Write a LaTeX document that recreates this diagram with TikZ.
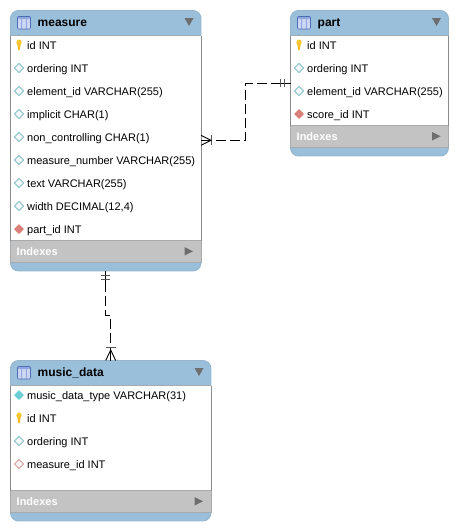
\documentclass[tikz,border=0pt]{standalone}
\usepackage{fontspec}
\setmainfont{Liberation Sans}
\usetikzlibrary{calc}
\definecolor{hdr}{HTML}{9ABFDA}
\definecolor{idxgrey}{HTML}{C3C3C3}
\definecolor{edge}{HTML}{8C8C8C}
\definecolor{softedge}{HTML}{A8ABAE}
\definecolor{tri}{HTML}{6E6E6E}
\definecolor{keyy}{HTML}{F6C62E}
\definecolor{dteal}{HTML}{93C6CB}
\definecolor{dred}{HTML}{DB8078}
\definecolor{dpale}{HTML}{D9AAA6}
\definecolor{dcyan}{HTML}{6CCFD6}
\definecolor{iconfill}{HTML}{CBD6F2}
\definecolor{iconline}{HTML}{8FA6DE}
\definecolor{iconedge}{HTML}{4F6FB5}
\definecolor{barcol}{HTML}{555555}
\tikzset{
  x=1pt,y=-1pt,
  tablebox/.style={anchor=north west,inner sep=0pt,outer sep=0pt,rectangle},
  coltext/.style={anchor=base west,inner sep=0pt,font=\fontsize{11}{13}\selectfont,text=black},
  titletext/.style={anchor=base west,inner sep=0pt,font=\fontsize{12}{14}\selectfont\bfseries,text=black},
  idxtext/.style={anchor=base west,inner sep=0pt,font=\fontsize{11}{13}\selectfont\bfseries,text=white},
  rel/.style={draw=black,line width=0.9pt,dash pattern=on 10pt off 4pt},
  relmark/.style={draw=black,line width=0.9pt},
  relbar/.style={draw=barcol,line width=1.3pt},
  capline/.style={draw=hdr!85!gray,line width=0.9pt,rounded corners=8pt},
}
% #1 name, #2 x, #3 y, #4 w, #5 h, #6 title, #7 indexes band top
\newcommand{\ertable}[7]{%
  \begin{scope}
    \clip[rounded corners=8pt] (#2,#3) rectangle ++(#4,#5);
    \fill[white] (#2,#3) rectangle ++(#4,#5);
    \fill[hdr] (#2,#3) rectangle ++(#4,25);
    \fill[idxgrey] (#2,#7) rectangle ++(#4,22);
    \fill[hdr] (#2,#7+22) rectangle (#2+#4,#3+#5);
    \draw[softedge,line width=0.8pt] (#2,#3+25) -- ++(#4,0);
    \draw[softedge,line width=0.8pt] (#2,#7) -- ++(#4,0);
    \draw[softedge,line width=0.8pt] (#2,#7+22) -- ++(#4,0);
  \end{scope}
  \node[tablebox,minimum width=#4pt,minimum height=#5pt] (#1) at (#2,#3) {};
  \begin{scope}
    \clip (#2-2,#3-2) rectangle (#2+#4+2,#3+25);
    \draw[capline] (#2,#3) rectangle ++(#4,#5);
  \end{scope}
  \begin{scope}
    \clip (#2-2,#7+22) rectangle (#2+#4+2,#3+#5+2);
    \draw[capline] (#2,#3) rectangle ++(#4,#5);
  \end{scope}
  \draw[edge,line width=0.9pt] (#2,#3+25) -- (#2,#7) (#2+#4,#3+25) -- (#2+#4,#7);
  \draw[softedge,line width=0.9pt] (#2,#7) -- (#2,#7+22) (#2+#4,#7) -- (#2+#4,#7+22);
  % table icon
  \fill[iconfill] (#2+7,#3+6) rectangle ++(13,12.5);
  \fill[iconline] (#2+7,#3+6) rectangle ++(13,2);
  \draw[iconline,line width=0.7pt] (#2+11.3,#3+8) -- ++(0,10.5) (#2+15.7,#3+8) -- ++(0,10.5);
  \draw[iconedge,line width=0.6pt,rounded corners=1pt] (#2+7,#3+6) rectangle ++(13,12.5);
  \node[titletext] (#1-title) at (#2+27,#3+15.8) {#6};
  \fill[tri] (#2+#4-16.5,#3+7.5) -- ++(9,0) -- ++(-4.5,8) -- cycle;
  \node[idxtext] (#1-idx) at (#2+6,#7+15) {Indexes};
  \fill[tri] (#2+#4-16.5,#7+6.5) -- ++(0,8.5) -- ++(8.5,-4.25) -- cycle;
}
% icons
\newcommand{\iconkey}[2]{%
  \fill[keyy] (#1,#2-2.5) ellipse (2.6 and 3);
  \fill[keyy!85!orange] (#1-1.6,#2-0.5) -- (#1+1.6,#2-0.5) -- (#1+0.8,#2+5) -- (#1-0.8,#2+5) -- cycle;
}
\newcommand{\icondia}[3]{% x,y,colour
  \draw[#3,line width=1pt,fill=#3!12!white,line join=round] (#1-4.6,#2) -- (#1,#2-4.6) -- (#1+4.6,#2) -- (#1,#2+4.6) -- cycle;
}
\newcommand{\iconfull}[3]{%
  \fill[#3,rounded corners=0.6pt] (#1-5,#2) -- (#1,#2-5) -- (#1+5,#2) -- (#1,#2+5) -- cycle;
}
\begin{document}
\begin{tikzpicture}
\useasboundingbox (0,0) rectangle (458,530);
\ertable{measure}{10.5}{10.5}{190.5}{260.5}{measure}{240.5}
\ertable{part}{290.5}{10.5}{158}{145.5}{part}{125.5}
\ertable{musicdata}{10.5}{360.5}{200.5}{160.5}{music\_data}{490.5}

% measure columns
\iconkey{19}{45}   \node[coltext] (m1) at (27,49) {id INT};
\icondia{19}{68}{dteal} \node[coltext] (m2) at (27,72) {ordering INT};
\icondia{19}{91}{dteal} \node[coltext] (m3) at (27,95) {element\_id VARCHAR(255)};
\icondia{19}{114}{dteal} \node[coltext] (m4) at (27,118) {implicit CHAR(1)};
\icondia{19}{137}{dteal} \node[coltext] (m5) at (27,141) {non\_controlling CHAR(1)};
\icondia{19}{160}{dteal} \node[coltext] (m6) at (27,164) {measure\_number VARCHAR(255)};
\icondia{19}{183}{dteal} \node[coltext] (m7) at (27,187) {text VARCHAR(255)};
\icondia{19}{206}{dteal} \node[coltext] (m8) at (27,210) {width DECIMAL(12,4)};
\iconfull{19}{229}{dred} \node[coltext] (m9) at (27,233) {part\_id INT};

% part columns
\iconkey{299}{45}   \node[coltext] (p1) at (307,49) {id INT};
\icondia{299}{68}{dteal} \node[coltext] (p2) at (307,72) {ordering INT};
\icondia{299}{91}{dteal} \node[coltext] (p3) at (307,95) {element\_id VARCHAR(255)};
\iconfull{299}{114}{dred} \node[coltext] (p4) at (307,118) {score\_id INT};

% music_data columns
\iconfull{19}{395}{dcyan} \node[coltext] (d1) at (27,399) {music\_data\_type VARCHAR(31)};
\iconkey{19}{418}   \node[coltext] (d2) at (27,422) {id INT};
\icondia{19}{441}{dteal} \node[coltext] (d3) at (27,445) {ordering INT};
\icondia{19}{464}{dpale} \node[coltext] (d4) at (27,468) {measure\_id INT};

% connector part -- measure
\coordinate (pa) at (part.north west |- 0,83.3);
\coordinate (pb) at (245.3,83.3);
\coordinate (pc) at (245.3,140.3);
\coordinate (pd) at (measure.north east |- 0,140.3);
\draw[rel] ($(pa)+(-10,0)$) -- (pb) -- (pc) -- ($(pd)+(14,0)$);
\draw[relmark] (pa) -- ++(-12,0);
\draw[relbar] ($(pa)+(-5.7,-4)$) -- ++(0,8) ($(pa)+(-10,-4)$) -- ++(0,8);
\draw[relmark] (pd) -- ++(10,0);
\draw[relbar] ($(pd)+(10.7,-5)$) -- ++(0,10);
\draw[relmark] ($(pd)+(0,-5)$) -- ($(pd)+(10,0)$) -- ($(pd)+(0,5)$);

% connector measure -- music_data
\coordinate (ma) at (measure.south west -| 105.3,0);
\coordinate (mb) at (105.3,315);
\coordinate (mc) at (110.7,315);
\coordinate (md) at (musicdata.north west -| 110.7,0);
\draw[rel] ($(ma)+(0,11)$) -- (mb) -- (mc) -- ($(md)+(0,-12)$);
\draw[relmark] (ma) -- ++(0,11);
\draw[relbar] ($(ma)+(-4.2,4.7)$) -- ++(8.4,0) ($(ma)+(-4.2,8.7)$) -- ++(8.4,0);
\draw[relmark] ($(md)+(0,-13)$) -- (md);
\draw[relbar] ($(md)+(-5.2,-12.7)$) -- ++(10.4,0);
\draw[relmark] ($(md)+(-5,0)$) -- ($(md)+(0,-10.5)$) -- ($(md)+(5,0)$);
\end{tikzpicture}
\end{document}
